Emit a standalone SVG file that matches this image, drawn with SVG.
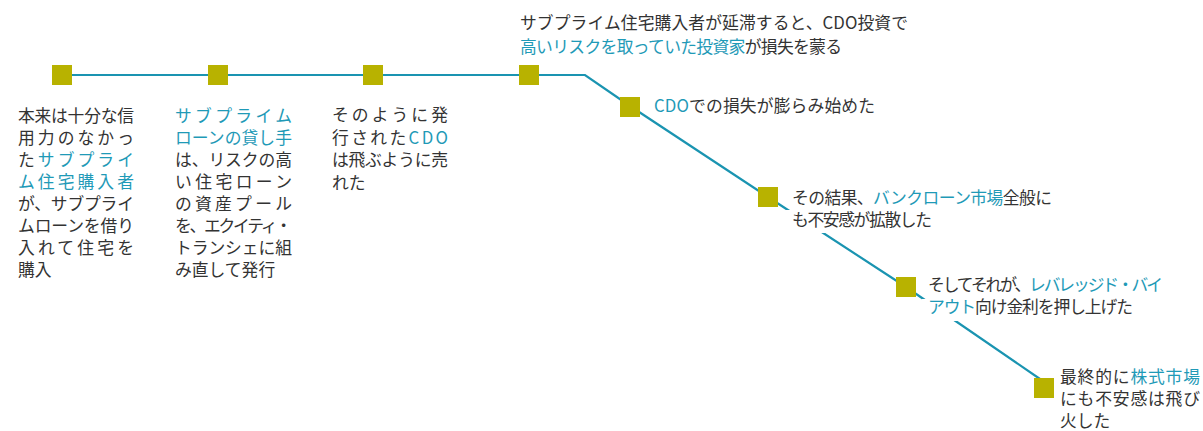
<svg xmlns="http://www.w3.org/2000/svg" width="1203" height="431" viewBox="0 0 1203 431">
<style>
text{font-family:"Noto Sans CJK JP","Noto Sans",sans-serif;font-size:16.8px;fill:#333}
.b{fill:#1f9ab7}
.sq{fill:#b8b200}
.ko{fill:#fff}
.ln{fill:none;stroke:#1a94b1;stroke-width:2.2;stroke-linejoin:miter}
</style>
<rect width="1203" height="431" fill="#fff"/>
<g id="connectors">
<polyline class="ln" points="62,75 585,75 630,106 768,197 906,287 1040,379"/>
</g>
<g id="node1">
<rect class="sq" x="52" y="65" width="20" height="20"/>
<text x="18" y="122" textLength="116" lengthAdjust="spacing">本来は十分な信</text>
<text x="18" y="144" textLength="116" lengthAdjust="spacing">用力のなかっ</text>
<text x="18" y="166" textLength="116" lengthAdjust="spacing">た<tspan class="b">サブプライ</tspan></text>
<text x="18" y="188" textLength="116" lengthAdjust="spacing" class="b">ム住宅購入者</text>
<text x="18" y="210" textLength="116" lengthAdjust="spacing">が、サブプライ</text>
<text x="18" y="232" textLength="116" lengthAdjust="spacing">ムローンを借り</text>
<text x="18" y="254" textLength="116" lengthAdjust="spacing">入れて住宅を</text>
<text x="18" y="276">購入</text>
</g>
<g id="node2">
<rect class="sq" x="208" y="65" width="20" height="20"/>
<text x="175" y="122" textLength="117" lengthAdjust="spacing" class="b">サブプライム</text>
<text x="175" y="144" textLength="117" lengthAdjust="spacing" class="b">ローンの貸し手</text>
<text x="175" y="166" textLength="117" lengthAdjust="spacing">は、リスクの高</text>
<text x="175" y="188" textLength="117" lengthAdjust="spacing">い住宅ローン</text>
<text x="175" y="210" textLength="117" lengthAdjust="spacing">の資産プール</text>
<text x="175" y="232" textLength="117" lengthAdjust="spacing">を、エクイティ・</text>
<text x="175" y="254" textLength="117" lengthAdjust="spacing">トランシェに組</text>
<text x="175" y="276">み直して発行</text>
</g>
<g id="node3">
<rect class="sq" x="363" y="65" width="20" height="20"/>
<text x="332" y="121" textLength="116" lengthAdjust="spacing">そのように発</text>
<text x="332" y="144" textLength="116" lengthAdjust="spacing">行された<tspan class="b">CDO</tspan></text>
<text x="332" y="166" textLength="116" lengthAdjust="spacing">は飛ぶように売</text>
<text x="332" y="189">れた</text>
</g>
<g id="node4">
<rect class="sq" x="519" y="65" width="20" height="20"/>
<text x="520" y="29" textLength="388" lengthAdjust="spacing">サブプライム住宅購入者が延滞すると、CDO投資で</text>
<text x="520" y="53" textLength="322" lengthAdjust="spacing"><tspan class="b">高いリスクを取っていた投資家</tspan>が損失を蒙る</text>
</g>
<g id="node5">
<rect class="sq" x="620" y="97" width="20" height="20"/>
<text x="654" y="112" textLength="221" lengthAdjust="spacing"><tspan class="b">CDO</tspan>での損失が膨らみ始めた</text>
</g>
<g id="node6">
<rect class="ko" x="786" y="210" width="150" height="23"/>
<rect class="sq" x="758" y="187" width="20" height="20"/>
<text x="792" y="204" textLength="260" lengthAdjust="spacing">その結果、<tspan class="b">バンクローン市場</tspan>全般に</text>
<text x="792" y="226" textLength="140" lengthAdjust="spacing">も不安感が拡散した</text>
</g>
<g id="node7">
<rect class="ko" x="922" y="299" width="215" height="22"/>
<rect class="sq" x="896" y="277" width="20" height="20"/>
<text x="928" y="291" textLength="235" lengthAdjust="spacing">そしてそれが、<tspan class="b">レバレッジド・バイ</tspan></text>
<text x="928" y="313" textLength="205" lengthAdjust="spacing"><tspan class="b">アウト</tspan>向け金利を押し上げた</text>
</g>
<g id="node8">
<rect class="sq" x="1034" y="378" width="20" height="20"/>
<text x="1060" y="383" textLength="140" lengthAdjust="spacing">最終的に<tspan class="b">株式市場</tspan></text>
<text x="1060" y="405" textLength="140" lengthAdjust="spacing">にも不安感は飛び</text>
<text x="1060" y="427">火した</text>
</g>
</svg>
